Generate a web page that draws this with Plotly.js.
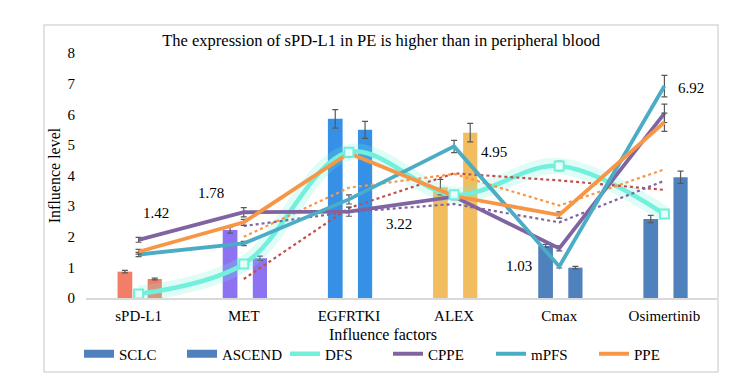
<!DOCTYPE html>
<html>
<head>
<meta charset="utf-8">
<script src="https://cdn.plot.ly/plotly-3.0.1.min.js"></script>
<style>
  html, body { margin: 0; padding: 0; background: #fff; }
  #chart { width: 740px; height: 388px; }
</style>
</head>
<body>
<div id="chart"></div>
<script>
// categories along the x axis
const factors = ['sPD-L1', 'MET', 'EGFRTKI', 'ALEX', 'Cmax', 'Osimertinib'];

// bar series
const sclc = [0.86, 2.22, 5.85, 3.62, 1.70, 2.58];
const sclcErr = [0.04, 0.1, 0.3, 0.25, 0.05, 0.12];
const ascend = [0.62, 1.30, 5.49, 5.40, 0.99, 3.94];
const ascendErr = [0.03, 0.07, 0.28, 0.3, 0.04, 0.2];

// line series
const dfs = [0.13, 1.11, 4.76, 3.37, 4.31, 2.74];
const dfsErr = [0.03, 0.05, 0.15, 0.08, 0.15, 0.08];
const cppe = [1.90, 2.80, 2.82, 3.31, 1.62, 6.03];
const cppeErr = [0.08, 0.15, 0.15, 0.1, 0.08, 0.3];
const mpfs = [1.42, 1.78, 3.22, 4.95, 1.03, 6.92];
const mpfsErr = [0.07, 0.07, 0.15, 0.2, 0.05, 0.35];
const ppe = [1.51, 2.47, 4.73, 3.33, 2.71, 5.74];
const ppeErr = [0.08, 0.1, 0.1, 0.1, 0.1, 0.3];

// dotted trend lines (start at the second category)
const trendFactors = ['MET', 'EGFRTKI', 'ALEX', 'Cmax', 'Osimertinib'];
const dfsTrend = [0.62, 2.94, 4.07, 3.84, 3.53];
const cppeTrend = [2.35, 2.81, 3.07, 2.47, 3.83];
const ppeTrend = [2.0, 3.6, 4.05, 3.02, 4.2];

// bar colours per category
const barColors = ['#f37e68', '#8d72f2', '#3590e6', '#f1bd5e', '#4f81bd', '#4f81bd'];

// pixel shifts of the mPFS value labels
const labelDx = [17, -33, 50, 40, -40, 27];
const labelDy = [42, 50, -25, -6, 0, -2];

const serif = "'Liberation Serif', 'Times New Roman', Times, serif";
const errStyle = arr => ({ type: 'data', array: arr, visible: true, color: '#595959', thickness: 1.2, width: 3 });

const traces = [
  // legend stand-ins for the bar series (wide blocks like the original)
  { type: 'scatter', mode: 'lines', name: 'SCLC', x: [null], y: [null], line: { color: '#4f81bd', width: 8 } },
  { type: 'scatter', mode: 'lines', name: 'ASCEND', x: [null], y: [null], line: { color: '#4f81bd', width: 8 } },
  {
    type: 'bar', name: 'SCLC', x: factors, y: sclc, showlegend: false,
    offset: -0.2, width: 0.14, marker: { color: barColors },
    error_y: errStyle(sclcErr)
  },
  {
    type: 'bar', name: 'ASCEND', x: factors, y: ascend, showlegend: false,
    offset: 0.086, width: 0.135, marker: { color: barColors },
    error_y: errStyle(ascendErr)
  },
  // DFS glow
  {
    type: 'scatter', mode: 'lines', x: factors, y: dfs, showlegend: false, hoverinfo: 'skip',
    line: { color: 'rgba(111,240,220,0.22)', width: 16, shape: 'spline' }
  },
  {
    type: 'scatter', mode: 'lines', name: 'DFS', x: factors, y: dfs,
    line: { color: '#72f0dc', width: 4.5, shape: 'spline' }
  },
  // dotted trend lines
  {
    type: 'scatter', mode: 'lines', x: trendFactors, y: dfsTrend, showlegend: false,
    line: { color: '#c0504d', width: 2.2, dash: 'dot' }
  },
  {
    type: 'scatter', mode: 'lines', x: trendFactors, y: ppeTrend, showlegend: false,
    line: { color: '#f79646', width: 2.2, dash: 'dot' }
  },
  {
    type: 'scatter', mode: 'lines', x: trendFactors, y: cppeTrend, showlegend: false,
    line: { color: '#8064a2', width: 2.2, dash: 'dot' }
  },
  {
    type: 'scatter', mode: 'lines', name: 'CPPE', x: factors, y: cppe,
    line: { color: '#8064a2', width: 3.8 }, error_y: errStyle(cppeErr)
  },
  {
    type: 'scatter', mode: 'lines', name: 'mPFS', x: factors, y: mpfs,
    line: { color: '#4bacc6', width: 3.8 }, error_y: errStyle(mpfsErr)
  },
  {
    type: 'scatter', mode: 'lines', name: 'PPE', x: factors, y: ppe,
    line: { color: '#f79646', width: 3.8 }, error_y: errStyle(ppeErr)
  },
  // DFS point markers
  {
    type: 'scatter', mode: 'markers', name: 'DFS', x: factors, y: dfs, showlegend: false,
    marker: { symbol: 'square', size: 9, color: '#e6fffa', line: { color: '#6ff0dc', width: 2 } },
    error_y: errStyle(dfsErr)
  }
];

const annotations = mpfs.map((v, i) => ({
  x: factors[i], y: v, text: v.toFixed(2), showarrow: false,
  xshift: labelDx[i], yshift: labelDy[i],
  font: { family: serif, size: 15, color: '#000' }
}));
annotations.push({
  xref: 'paper', yref: 'paper', x: 0.4707, y: -0.147, text: 'Influence factors',
  showarrow: false, xanchor: 'center', yanchor: 'middle',
  font: { family: serif, size: 16, color: '#000' }
});

const layout = {
  width: 740, height: 388,
  margin: { l: 86, r: 23, t: 53, b: 90 },
  paper_bgcolor: '#fff', plot_bgcolor: '#fff',
  font: { family: serif, size: 15, color: '#000' },
  title: {
    text: 'The expression of sPD-L1 in PE is higher than in peripheral blood',
    x: 0.515, xanchor: 'center', y: 0.897, yanchor: 'middle',
    font: { family: serif, size: 16.5, color: '#000' }
  },
  barmode: 'overlay',
  xaxis: {
    type: 'category', range: [-0.5, 5.5], showgrid: false, zeroline: false,
    showline: true, linecolor: '#d9d9d9', linewidth: 1.5, ticks: '',
    ticklabelstandoff: 3, tickfont: { family: serif, size: 15 }
  },
  yaxis: {
    range: [0, 8], tickvals: [0, 1, 2, 3, 4, 5, 6, 7, 8], showgrid: false, zeroline: false,
    showline: false, ticks: '', ticklabelstandoff: 10, tickfont: { family: serif, size: 15 },
    title: { text: 'Influence level', standoff: 2, font: { family: serif, size: 16 } }
  },
  legend: {
    orientation: 'h', x: 0.4786, xanchor: 'center', y: -0.2286, yanchor: 'middle',
    font: { family: serif, size: 15 }, entrywidth: 58, itemwidth: 30, traceorder: 'normal'
  },
  annotations: annotations,
  shapes: [{
    type: 'rect', xref: 'paper', yref: 'paper',
    x0: -0.0666, x1: 1.0016, y0: -0.302, y1: 1.114,
    line: { color: '#d9d9d9', width: 1.5 }, layer: 'below'
  }],
  showlegend: true
};

Plotly.newPlot('chart', traces, layout, { displayModeBar: false, staticPlot: true });
</script>
</body>
</html>
